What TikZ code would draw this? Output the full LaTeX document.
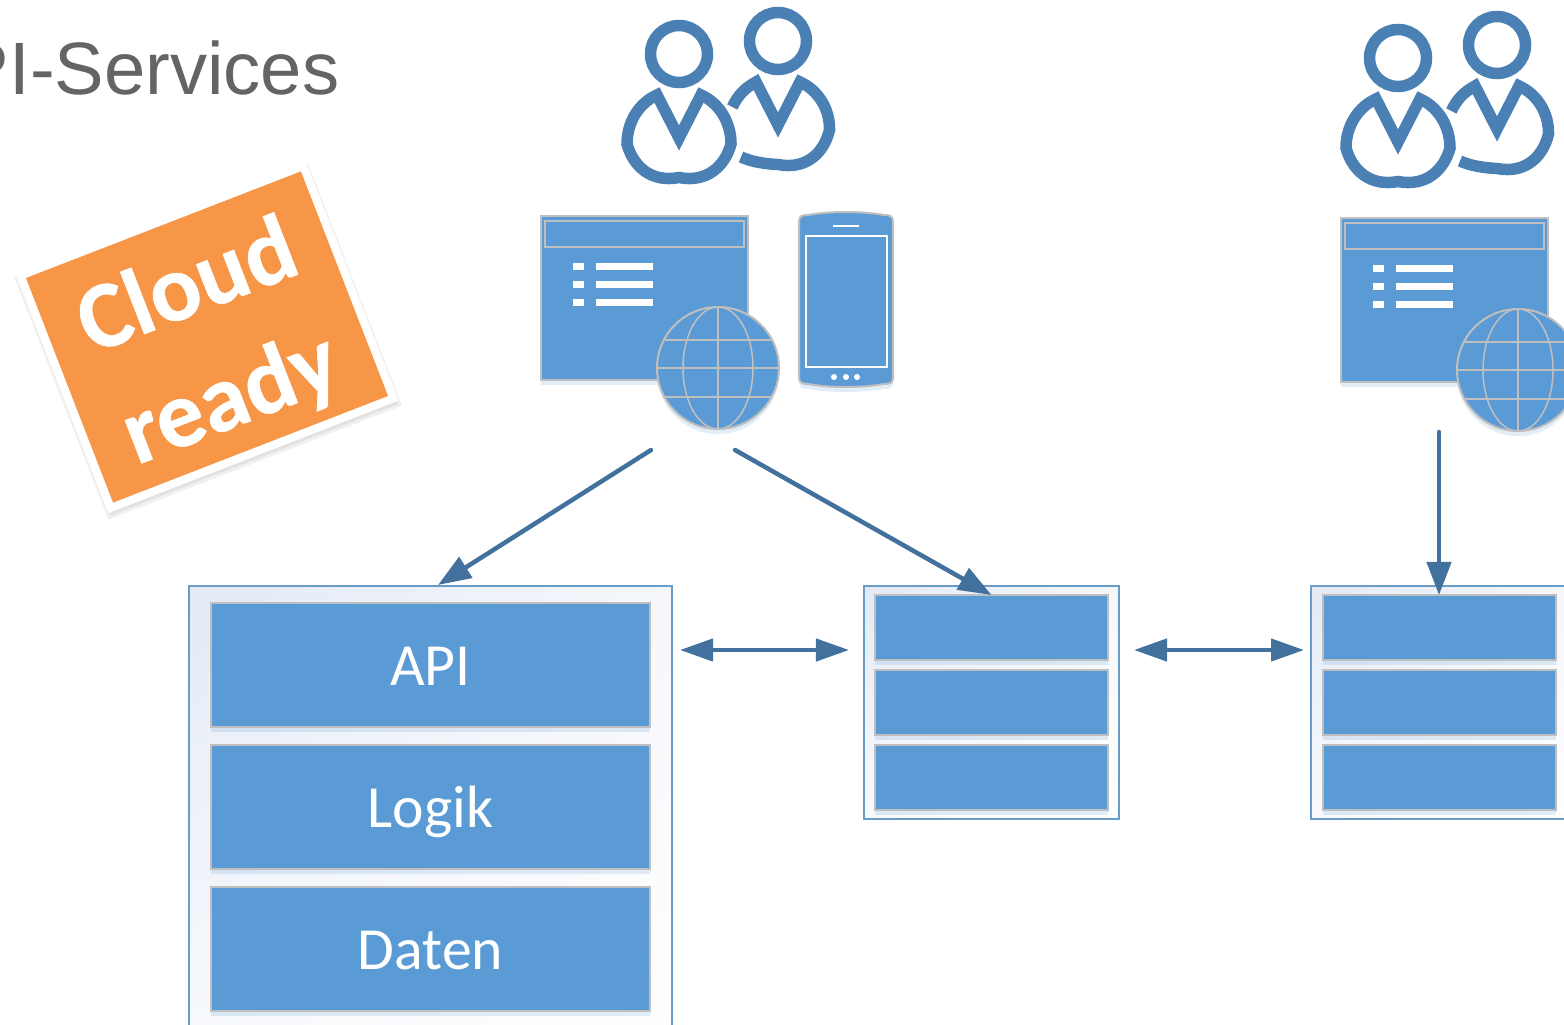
\documentclass[tikz,border=0pt]{standalone}
\usepackage{fontspec}
\setmainfont{Carlito}
\newfontfamily\titlefont{Liberation Sans}
\usetikzlibrary{positioning,arrows.meta,shadows,shadings}
\definecolor{tierblue}{HTML}{5B9BD5}
\definecolor{userblue}{HTML}{4A80B4}
\definecolor{arrowblue}{HTML}{41719C}
\definecolor{edgegray}{HTML}{BFBFBF}
\definecolor{badgeorange}{HTML}{F79646}
\definecolor{titlegray}{HTML}{646464}
\definecolor{paleA}{HTML}{E3EAF6}
\definecolor{paleB}{HTML}{F5F7FB}
\definecolor{paleC}{HTML}{F8FAFD}
\definecolor{boxedge}{HTML}{6A9CC8}
\tikzset{
  softshadow/.style={drop shadow={shadow xshift=0cm,shadow yshift=-0.05cm,fill=tierblue,opacity=0.18}},
  outerbox/.style={draw=boxedge,line width=0.018cm,upper left=paleA,upper right=paleB,lower left=paleC,lower right=white,outer sep=0pt},
  tierbox/.style={fill=tierblue,draw=edgegray,line width=0.025cm,text=white,softshadow,outer sep=0pt},
  tiersmall/.style={tierbox,minimum width=2.33cm,minimum height=0.65cm},
  tierbig/.style={tierbox,minimum width=4.39cm,minimum height=1.24cm,text height=0.5cm,text depth=0.1cm,font=\fontsize{17}{20}\selectfont},
  flow/.style={color=arrowblue,line width=0.045cm,line cap=round,-{Triangle[length=0.33cm,width=0.24cm]}},
  flowboth/.style={color=arrowblue,line width=0.045cm,{Triangle[length=0.33cm,width=0.22cm]}-{Triangle[length=0.33cm,width=0.22cm]}},
  userline/.style={draw=userblue,line width=0.115cm,line join=miter},
  pics/frontuser/.style={code={
    \draw[userline] (0,0) circle (28.5);
    \draw[userline] (-22,41) -- (0,84) -- (22,41) .. controls (40,49) and (52,68) .. (52,90)
      .. controls (46,112) and (28,129) .. (0,123.5) .. controls (-28,129) and (-46,112) .. (-52,90)
      .. controls (-52,68) and (-40,49) .. (-22,41) -- cycle;
  }},
  pics/backuser/.style={code={
    \draw[userline] (0,0) circle (28.5);
    \draw[userline] (-45.7,66) .. controls (-40,54) and (-33,47) .. (-22,41) -- (0,84) -- (22,41)
      .. controls (40,49) and (52,68) .. (51.5,89) .. controls (46,112) and (28,129) .. (0,123.5)
      .. controls (-12,123) and (-26,121) .. (-37,116);
  }},
  pics/webicon/.style={code={
    \draw[fill=tierblue,draw=edgegray,line width=0.02cm,softshadow] (0,0) rectangle (207,164);
    \draw[draw=edgegray,line width=0.015cm] (4,5) rectangle (203,31);
    \foreach \row in {47,65,83}{
      \fill[white] (32,\row) rectangle +(10.5,6.5);
      \fill[white] (55,\row) rectangle +(57,6.5);
    }
    \begin{scope}[shift={(177,152)}]
      \draw[fill=tierblue,draw=edgegray,line width=0.02cm,softshadow] (0,0) circle (61);
      \draw[draw=edgegray,line width=0.015cm] (0,0) ellipse (35 and 61);
      \draw[draw=edgegray,line width=0.015cm] (0,-61) -- (0,61) (-61,0) -- (61,0);
      \draw[draw=edgegray,line width=0.015cm] (-53,-28) -- (53,-28) (-53,29) -- (53,29);
    \end{scope}
  }},
}
\begin{document}
\begin{tikzpicture}[x=0.01cm,y=-0.01cm]
\useasboundingbox (0,0) rectangle (1564,1024);
\node[anchor=base east,text=titlegray,inner sep=0pt,font=\titlefont\fontsize{21.1}{25}\selectfont] (title) at (340,94) {PI-Services};
% badge
\begin{scope}[shift={(208,341)},rotate=21.2]
  \foreach \blur in {-3,0,3,6}{
    \fill[black,opacity=0.06] (-151.5-\blur,-124.5-\blur) rectangle (151.5+\blur,124.5+\blur);
  }
\end{scope}
\node[rotate=21.2,fill=badgeorange,draw=white,line width=0.08cm,minimum width=3.03cm,minimum height=2.49cm] (badge) at (207,337) {};
\node[rotate=21.2,align=center,text=white,font=\bfseries\addfontfeatures{FakeBold=0.6}\fontsize{27}{34}\selectfont] (badgetext) at (210,345) {Cloud\\ready};
% users
\pic at (778,41) {backuser};
\pic at (679,54) {frontuser};
\pic at (1497,45) {backuser};
\pic at (1398,58) {frontuser};
% clients
\pic at (541,216) {webicon};
\pic at (1341,218) {webicon};
\draw[fill=tierblue,draw=edgegray,line width=0.02cm,softshadow] (799,222) .. controls (799,215) and (803,215) .. (808,215)
  .. controls (830,211) and (862,211) .. (884,215) .. controls (890,215) and (893,216) .. (893,222)
  -- (893,378) .. controls (893,383) and (890,384) .. (884,384) .. controls (862,388) and (830,388) .. (808,384)
  .. controls (803,384) and (799,383) .. (799,378) -- cycle;
\draw[white,line width=0.013cm] (806,236) rectangle (887,367);
\draw[white,line width=0.012cm] (833,226) -- (859,226);
\foreach \dotx in {834,846,857}{
  \fill[white] (\dotx,377) circle (3);
}
% left tier
\node[outerbox,minimum width=4.83cm,minimum height=4.6cm,shade,anchor=north west] (leftbox) at (189,586) {};
\node[tierbig] (api) at (430.5,665) {API};
\node[tierbig,below=0.18cm of api] (logik) {Logik};
\node[tierbig,below=0.18cm of logik] (daten) {Daten};
% middle tier
\node[outerbox,minimum width=2.55cm,minimum height=2.33cm,shade,anchor=north west] (midbox) at (864,586) {};
\node[tiersmall] (midA) at (991.5,627.5) {};
\node[tiersmall,below=0.1cm of midA] (midB) {};
\node[tiersmall,below=0.1cm of midB] (midC) {};
% right tier
\node[outerbox,minimum width=2.55cm,minimum height=2.33cm,shade,anchor=north west] (rightbox) at (1311,586) {};
\node[tiersmall] (rightA) at (1439.5,627.5) {};
\node[tiersmall,below=0.1cm of rightA] (rightB) {};
\node[tiersmall,below=0.1cm of rightB] (rightC) {};
% connectors
\coordinate (webL) at (651,450);
\coordinate (webM) at (735,450);
\coordinate (webR) at (1439,432);
\coordinate (apiTop) at (438,585);
\coordinate (linkAL) at (680,650);
\coordinate (linkAR) at (849,650);
\coordinate (linkBL) at (1134,650);
\coordinate (linkBR) at (1304,650);
\draw[flow] (webL) -- (apiTop);
\draw[flow] (webM) -- (midA.north);
\draw[flow] (webR) -- (webR |- rightA.north);
\draw[flowboth] (linkAL) -- (linkAR);
\draw[flowboth] (linkBL) -- (linkBR);
\end{tikzpicture}
\end{document}
